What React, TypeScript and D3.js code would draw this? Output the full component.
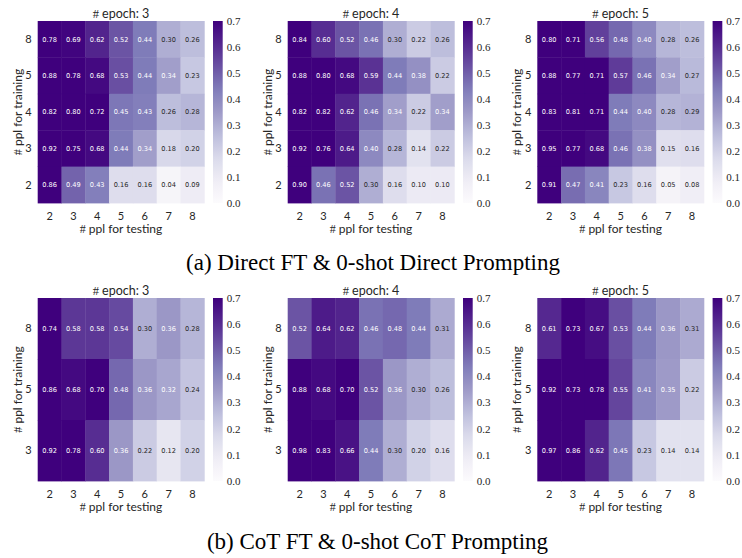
import React from 'react';
import * as d3 from 'd3';

// x axis: people at test time, y axis: people at training time
const testPpl = [2, 3, 4, 5, 6, 7, 8];
const trainPplDirect = [8, 5, 4, 3, 2];
const trainPplCot = [8, 5, 3];
const epochs = [3, 4, 5];
const colorbarTicks = [0.0, 0.1, 0.2, 0.3, 0.4, 0.5, 0.6, 0.7];

const directEpoch3 = [
  [0.78, 0.69, 0.62, 0.52, 0.44, 0.30, 0.26],
  [0.88, 0.78, 0.68, 0.53, 0.44, 0.34, 0.23],
  [0.82, 0.80, 0.72, 0.45, 0.43, 0.26, 0.28],
  [0.92, 0.75, 0.68, 0.44, 0.34, 0.18, 0.20],
  [0.86, 0.49, 0.43, 0.16, 0.16, 0.04, 0.09],
];
const directEpoch4 = [
  [0.84, 0.60, 0.52, 0.46, 0.30, 0.22, 0.26],
  [0.88, 0.80, 0.68, 0.59, 0.44, 0.38, 0.22],
  [0.82, 0.82, 0.62, 0.46, 0.34, 0.22, 0.34],
  [0.92, 0.76, 0.64, 0.40, 0.28, 0.14, 0.22],
  [0.90, 0.46, 0.52, 0.30, 0.16, 0.10, 0.10],
];
const directEpoch5 = [
  [0.80, 0.71, 0.56, 0.48, 0.40, 0.28, 0.26],
  [0.88, 0.77, 0.71, 0.57, 0.46, 0.34, 0.27],
  [0.83, 0.81, 0.71, 0.44, 0.40, 0.28, 0.29],
  [0.95, 0.77, 0.68, 0.46, 0.38, 0.15, 0.16],
  [0.91, 0.47, 0.41, 0.23, 0.16, 0.05, 0.08],
];
const cotEpoch3 = [
  [0.74, 0.58, 0.58, 0.54, 0.30, 0.36, 0.28],
  [0.86, 0.68, 0.70, 0.48, 0.36, 0.32, 0.24],
  [0.92, 0.78, 0.60, 0.36, 0.22, 0.12, 0.20],
];
const cotEpoch4 = [
  [0.52, 0.64, 0.62, 0.46, 0.48, 0.44, 0.31],
  [0.88, 0.68, 0.70, 0.52, 0.36, 0.30, 0.26],
  [0.98, 0.83, 0.66, 0.44, 0.30, 0.20, 0.16],
];
const cotEpoch5 = [
  [0.61, 0.73, 0.67, 0.53, 0.44, 0.36, 0.31],
  [0.92, 0.73, 0.78, 0.55, 0.41, 0.35, 0.22],
  [0.97, 0.86, 0.62, 0.45, 0.23, 0.14, 0.14],
];

const captionA = '(a) Direct FT & 0-shot Direct Prompting';
const captionB = '(b) CoT FT & 0-shot CoT Prompting';

const W = 742;
const H = 558;
const colLeft = [37.7, 287.7, 537.3];
const mapW = 166.6;
const sans = 'Lato, "DejaVu Sans", sans-serif';
const serif = '"Liberation Serif", serif';

// matplotlib Purples is a linear blend of the 9 brewer colours
const color = d3
  .scaleLinear<string>()
  .domain(d3.range(9).map(i => (i * 0.7) / 8))
  .range(d3.schemePurples[9])
  .clamp(true);

// seaborn picks text colour from relative luminance
function textColor(c: string) {
  const rgb = d3.rgb(c);
  const lin = [rgb.r, rgb.g, rgb.b].map(v => {
    const x = v / 255;
    return x <= 0.03928 ? x / 12.92 : Math.pow((x + 0.055) / 1.055, 2.4);
  });
  const lum = 0.2126 * lin[0] + 0.7152 * lin[1] + 0.0722 * lin[2];
  return lum > 0.408 ? '#262626' : '#ffffff';
}

function Heatmap({ values, train, epoch, left, top, height, id }) {
  const x = d3.scaleBand<number>().domain(testPpl).range([left, left + mapW]);
  const y = d3.scaleBand<number>().domain(train).range([top, top + height]);
  const cbX = left + mapW + 8.7;
  const cbW = 9.7;
  const cb = d3.scaleLinear().domain([0, 0.7]).range([top + height, top]);
  const stops = d3.range(0, 1.0001, 0.05);

  return (
    <g>
      <defs>
        <linearGradient id={id} x1="0" y1="1" x2="0" y2="0">
          {stops.map(s => (
            <stop key={s} offset={s} stopColor={color(s * 0.7)} />
          ))}
        </linearGradient>
      </defs>
      {values.map((row, i) =>
        row.map((v, j) => {
          const fill = color(v);
          return (
            <g key={`${i}-${j}`}>
              <rect
                x={x(testPpl[j])}
                y={y(train[i])}
                width={x.bandwidth() + 0.4}
                height={y.bandwidth() + 0.4}
                fill={fill}
              />
              <text
                x={x(testPpl[j])! + x.bandwidth() / 2}
                y={y(train[i])! + y.bandwidth() / 2}
                dy="0.35em"
                textAnchor="middle"
                fontFamily='"DejaVu Sans", sans-serif'
                fontSize={6.6}
                fill={textColor(fill)}
              >
                {v.toFixed(2)}
              </text>
            </g>
          );
        })
      )}
      <text
        x={left + mapW / 2}
        y={top - 3.5}
        textAnchor="middle"
        fontFamily={sans}
        fontSize={12.5}
        fill="#262626"
      >
        <tspan fontFamily={serif}>#</tspan> epoch: {epoch}
      </text>
      {testPpl.map(t => (
        <text
          key={t}
          x={x(t)! + x.bandwidth() / 2}
          y={top + height + 17}
          textAnchor="middle"
          fontFamily={sans}
          fontSize={11}
          fill="#262626"
        >
          {t}
        </text>
      ))}
      <text
        x={left + mapW / 2}
        y={top + height + 29.5}
        textAnchor="middle"
        fontFamily={sans}
        fontSize={12}
        fill="#262626"
      >
        <tspan fontFamily={serif}>#</tspan> ppl for testing
      </text>
      {train.map(t => (
        <text
          key={t}
          x={left - 6}
          y={y(t)! + y.bandwidth() / 2}
          dy="0.35em"
          textAnchor="end"
          fontFamily={sans}
          fontSize={11}
          fill="#262626"
        >
          {t}
        </text>
      ))}
      <text
        transform={`translate(${left - 16},${top + height / 2}) rotate(-90)`}
        textAnchor="middle"
        fontFamily={sans}
        fontSize={12}
        fill="#262626"
      >
        <tspan fontFamily={serif}>#</tspan> ppl for training
      </text>
      <rect x={cbX} y={top} width={cbW} height={height} fill={`url(#${id})`} />
      {colorbarTicks.map(t => (
        <text
          key={t}
          x={cbX + cbW + 4}
          y={cb(t)}
          dy="0.35em"
          fontFamily={serif}
          fontSize={11}
          fill="#262626"
        >
          {t.toFixed(1)}
        </text>
      ))}
    </g>
  );
}

export default function App() {
  const directData = [directEpoch3, directEpoch4, directEpoch5];
  const cotData = [cotEpoch3, cotEpoch4, cotEpoch5];
  return (
    <svg
      width={W}
      height={H}
      style={{ position: 'absolute', left: 0, top: 0, background: '#fff' }}
    >
      {epochs.map((e, i) => (
        <Heatmap
          key={`d${e}`}
          id={`gd${e}`}
          values={directData[i]}
          train={trainPplDirect}
          epoch={e}
          left={colLeft[i]}
          top={21}
          height={182}
        />
      ))}
      {epochs.map((e, i) => (
        <Heatmap
          key={`c${e}`}
          id={`gc${e}`}
          values={cotData[i]}
          train={trainPplCot}
          epoch={e}
          left={colLeft[i]}
          top={298}
          height={183}
        />
      ))}
      <text x={373} y={270} textAnchor="middle" fontFamily={serif} fontSize={23} fill="#000">
        {captionA}
      </text>
      <text x={377.5} y={549} textAnchor="middle" fontFamily={serif} fontSize={23} fill="#000">
        {captionB}
      </text>
    </svg>
  );
}
